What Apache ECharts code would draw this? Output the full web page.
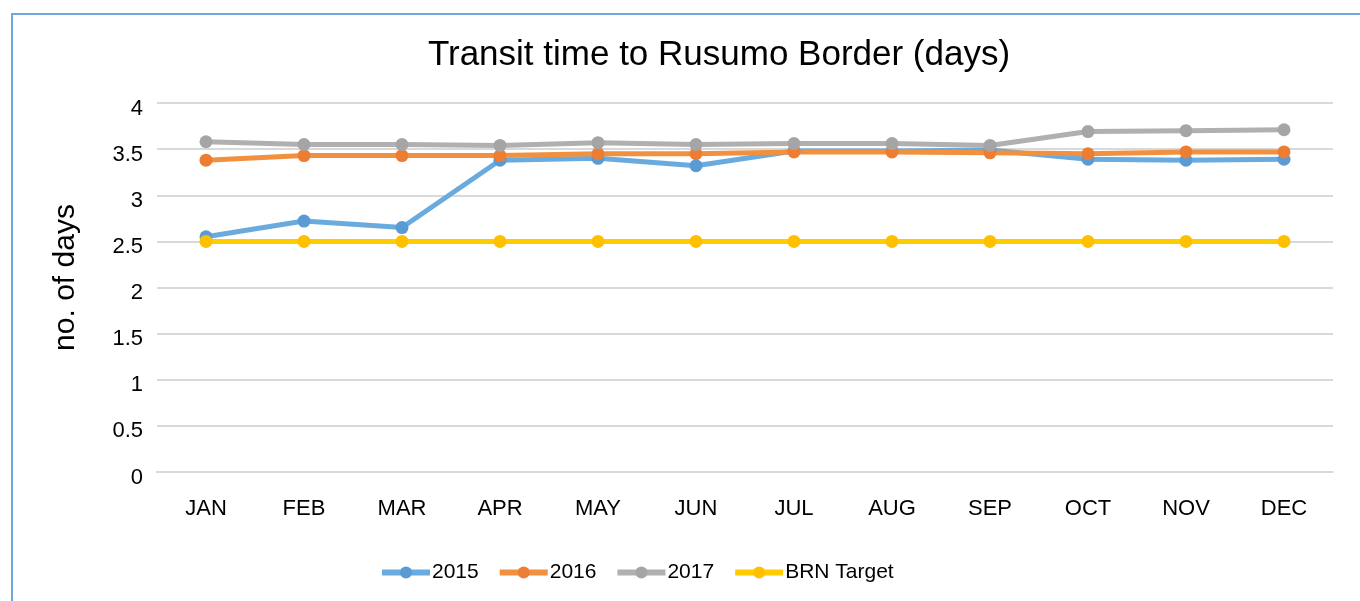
<!DOCTYPE html>
<html>
<head>
<meta charset="utf-8">
<script src="https://cdn.jsdelivr.net/npm/echarts@6/dist/echarts.min.js"></script>
<style>
html,body{margin:0;padding:0;background:#fff;}
#c{width:1360px;height:601px;}
</style>
</head>
<body>
<div id="c"></div>
<script>
var months = ['JAN','FEB','MAR','APR','MAY','JUN','JUL','AUG','SEP','OCT','NOV','DEC'];
var s2015 = [2.55, 2.72, 2.65, 3.38, 3.40, 3.32, 3.48, 3.48, 3.49, 3.39, 3.38, 3.39];
var s2016 = [3.38, 3.43, 3.43, 3.43, 3.45, 3.45, 3.47, 3.47, 3.46, 3.45, 3.47, 3.47];
var s2017 = [3.58, 3.55, 3.55, 3.54, 3.57, 3.55, 3.56, 3.56, 3.54, 3.69, 3.70, 3.71];
var target = [2.5, 2.5, 2.5, 2.5, 2.5, 2.5, 2.5, 2.5, 2.5, 2.5, 2.5, 2.5];
var yTicks = [0, 0.5, 1, 1.5, 2, 2.5, 3, 3.5, 4];

var FONT = '"Liberation Sans", Arial, Helvetica, sans-serif';

function mk(name, data, lineColor, markColor) {
  return {
    name: name,
    type: 'line',
    data: data,
    symbol: 'circle',
    symbolSize: 13,
    lineStyle: {width: 5, color: lineColor},
    itemStyle: {color: markColor},
    emphasis: {disabled: true},
    animation: false
  };
}

var chart = echarts.init(document.getElementById('c'), null, {renderer: 'canvas'});
chart.setOption({
  backgroundColor: '#fff',
  animation: false,
  title: {
    text: 'Transit time to Rusumo Border (days)',
    left: 714, top: 33, textAlign: 'center',
    textStyle: {fontFamily: FONT, fontSize: 35, fontWeight: 'normal', color: '#000'}
  },
  graphic: [{
    type: 'rect', silent: true,
    shape: {x: 12, y: 14, width: 1400, height: 700},
    style: {fill: 'none', stroke: '#6fa8dc', lineWidth: 2}
  }],
  legend: {
    top: 557, left: 374,
    itemWidth: 48, itemHeight: 15, itemGap: 18,
    lineStyle: {width: 6},
    textStyle: {fontFamily: FONT, fontSize: 21, color: '#000', padding: [2,0,0,-3]},
    data: ['2015','2016','2017','BRN Target']
  },
  grid: {left: 157, right: 27, top: 103, bottom: 129, containLabel: false},
  xAxis: {
    type: 'category', data: months, boundaryGap: true,
    axisLine: {show: true, lineStyle: {color: '#d9d9d9', width: 2}},
    axisTick: {show: false},
    axisLabel: {fontFamily: FONT, fontSize: 22, color: '#000', margin: 26}
  },
  yAxis: {
    type: 'value', min: 0, max: 4, interval: 0.5,
    name: 'no. of days', nameLocation: 'middle', nameGap: 76, nameRotate: 90,
    nameTextStyle: {fontFamily: FONT, fontSize: 30, color: '#000', padding: [0,0,0,20]},
    axisLine: {show: false}, axisTick: {show: false},
    axisLabel: {fontFamily: FONT, fontSize: 22, color: '#000', margin: 14,
      verticalAlign: 'top', lineHeight: 11,
      formatter: function(v){ return yTicks.indexOf(v) >= 0 ? String(v) : ''; }},
    splitLine: {lineStyle: {color: '#d9d9d9', width: 2}}
  },
  series: [
    mk('2015', s2015, '#6aabdf', '#5b9bd5'),
    mk('2016', s2016, '#f1913f', '#ed7d31'),
    mk('2017', s2017, '#b0b0b0', '#a5a5a5'),
    mk('BRN Target', target, '#ffcc00', '#ffc000')
  ]
});
</script>
</body>
</html>
